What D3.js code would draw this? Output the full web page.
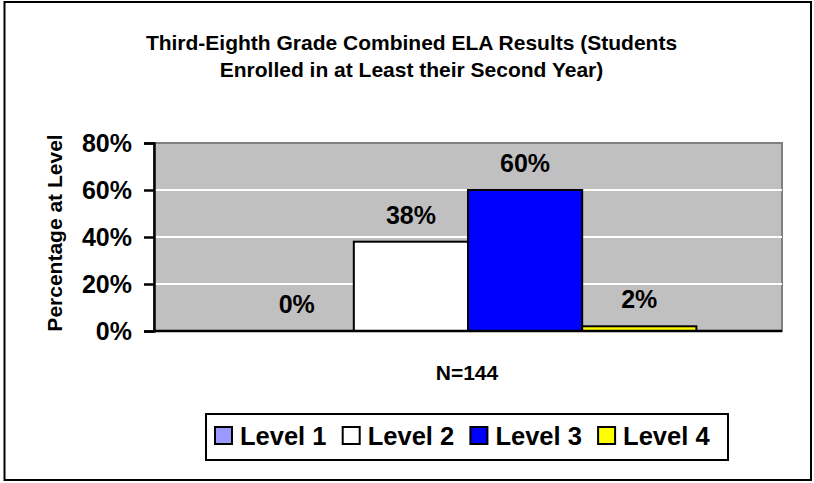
<!DOCTYPE html>
<html>
<head>
<meta charset="utf-8">
<script src="https://cdn.jsdelivr.net/npm/d3@7"></script>
<style>
  html, body { margin: 0; padding: 0; background: #fff; }
  svg { display: block; font-family: "Liberation Sans", Arial, Helvetica, sans-serif; font-weight: bold; }
</style>
</head>
<body>
<svg id="chart" width="814" height="483"></svg>
<script>
const titleLines = ["Third-Eighth Grade Combined ELA Results (Students", "Enrolled in at Least their Second Year)"];
const yAxisTitle = "Percentage at Level";
const categoryLabel = "N=144";
const series = ["Level 1", "Level 2", "Level 3", "Level 4"];
const values = [0, 38, 60, 2];
const colors = ["#9999ff", "#ffffff", "#0000ff", "#ffff00"];
const yTicks = [0, 20, 40, 60, 80];

const svg = d3.select("#chart");
const plot = { left: 154, right: 782, top: 143, bottom: 331 };

// outer border
svg.append("rect").attr("x", 4.5).attr("y", 2).attr("width", 806.5).attr("height", 478)
  .attr("fill", "#fff").attr("stroke", "#000").attr("stroke-width", 2);

// title
const title = svg.append("text").attr("text-anchor", "middle").attr("font-size", 21).attr("fill", "#000");
titleLines.forEach((t, i) => {
  title.append("tspan").attr("x", 411.5).attr("y", 50 + i * 27).text(t);
});

const x = d3.scaleBand().domain(series).range([plot.left, plot.right]).paddingInner(0).paddingOuter(0.75);
const y = d3.scaleLinear().domain([0, 80]).range([plot.bottom, plot.top]);

// plot background
svg.append("rect").attr("x", plot.left).attr("y", plot.top)
  .attr("width", plot.right - plot.left).attr("height", plot.bottom - plot.top)
  .attr("fill", "#c0c0c0").attr("stroke", "#808080").attr("stroke-width", 2);

// gridlines
svg.append("g").selectAll("line").data(yTicks.filter(d => d > 0 && d < 80)).join("line")
  .attr("x1", plot.left).attr("x2", plot.right)
  .attr("y1", d => y(d)).attr("y2", d => y(d))
  .attr("stroke", "#ffffff").attr("stroke-width", 2);

// bars
svg.append("g").selectAll("rect").data(series).join("rect")
  .attr("x", d => x(d)).attr("width", x.bandwidth())
  .attr("y", (d, i) => y(values[i])).attr("height", (d, i) => y(0) - y(values[i]))
  .attr("fill", (d, i) => colors[i])
  .attr("stroke", "#000").attr("stroke-width", 2)
  .attr("display", (d, i) => values[i] > 0 ? null : "none");

// bar labels
svg.append("g").selectAll("text").data(series).join("text")
  .attr("x", d => x(d) + x.bandwidth() / 2)
  .attr("y", (d, i) => y(values[i]) - 18)
  .attr("text-anchor", "middle").attr("font-size", 25).attr("fill", "#000")
  .text((d, i) => values[i] + "%");

// y axis
const yAxis = d3.axisLeft(y).tickValues(yTicks).tickSize(10).tickPadding(12).tickFormat(d => d + "%");
const gy = svg.append("g").attr("transform", `translate(${plot.left},0)`).call(yAxis);
gy.select(".domain").attr("stroke", "#000").attr("stroke-width", 2.5);
gy.selectAll(".tick line").attr("stroke", "#000").attr("stroke-width", 2.5);
gy.selectAll(".tick text").attr("font-size", 25).attr("font-family", null).attr("fill", "#000");

// x axis line
svg.append("line").attr("x1", plot.left).attr("x2", plot.right)
  .attr("y1", plot.bottom).attr("y2", plot.bottom)
  .attr("stroke", "#000").attr("stroke-width", 2.5);

// y axis title
svg.append("text").attr("transform", `translate(62,233) rotate(-90)`)
  .attr("text-anchor", "middle").attr("font-size", 21).attr("fill", "#000").text(yAxisTitle);

// category label
svg.append("text").attr("x", 467).attr("y", 380).attr("text-anchor", "middle")
  .attr("font-size", 21).attr("fill", "#000").text(categoryLabel);

// legend
const legend = svg.append("g");
legend.append("rect").attr("x", 206).attr("y", 414).attr("width", 522).attr("height", 46)
  .attr("fill", "#fff").attr("stroke", "#000").attr("stroke-width", 2);
const li = legend.selectAll("g.item").data(series).join("g").attr("class", "item")
  .attr("transform", (d, i) => `translate(${215 + i * 127.7},0)`);
li.append("rect").attr("x", 0).attr("y", 427).attr("width", 17).attr("height", 17)
  .attr("fill", (d, i) => colors[i]).attr("stroke", "#000").attr("stroke-width", 2);
li.append("text").attr("x", 25).attr("y", 444.5).attr("font-size", 25.5).attr("fill", "#000").text(d => d);
</script>
</body>
</html>
